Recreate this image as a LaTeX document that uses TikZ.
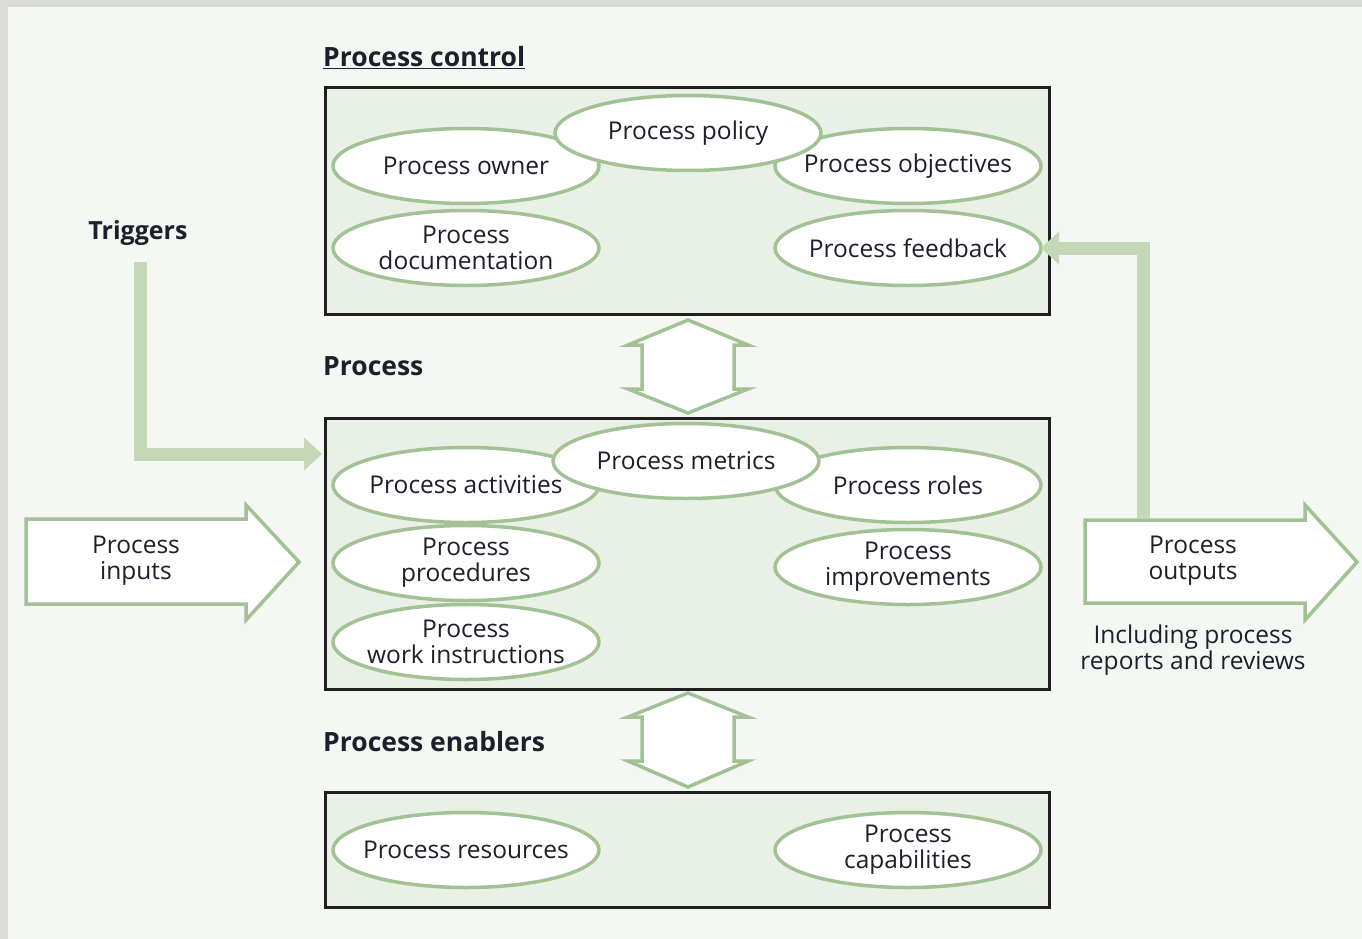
\documentclass[tikz,border=0pt]{standalone}
\usepackage{fontspec}
\setmainfont{Open Sans}
\usetikzlibrary{shapes.geometric,arrows.meta}
\definecolor{outergray}{HTML}{DCDBDA}
\definecolor{bg}{HTML}{F5F7F2}
\definecolor{boxfill}{HTML}{E9F0E5}
\definecolor{ellgreen}{HTML}{A2C295}
\definecolor{arrgreen}{HTML}{C4D8B8}
\definecolor{txt}{HTML}{1E1E2C}
\begin{document}
\begin{tikzpicture}[x=1pt,y=-1pt,
  every node/.style={text=txt, font=\fontsize{24.5}{26}\selectfont},
  panel/.style={draw=black!88, line width=3pt, fill=boxfill, anchor=north west, inner sep=0pt, outer sep=0pt},
  oval/.style={ellipse, draw=ellgreen, line width=3.5pt, fill=white, minimum width=266pt, minimum height=75pt, inner xsep=-45pt, inner ysep=0pt, outer sep=0pt, align=center},
  heading/.style={anchor=base west, inner sep=0pt, font=\bfseries\fontsize{26.5}{28}\selectfont},
  bigarrow/.style={draw=ellgreen, line width=3.5pt, fill=white, line join=miter},
  fatline/.style={draw=arrgreen, line width=13pt, -{Triangle[width=32pt,length=18pt]}},
  plain/.style={align=center, inner sep=0pt}
]
\useasboundingbox (0,0) rectangle (1362,939);
\fill[outergray] (0,0) rectangle (1362,939);
\fill[bg] (8,7) rectangle (1362,939);

% headings
\node[heading] (hctrl) at (323,67) {\underline{Process control}};
\node[heading] (hproc) at (323,375) {Process};
\node[heading] (henab) at (323,751) {Process enablers};
\node[heading, anchor=base, font=\bfseries\fontsize{25}{27}\selectfont] (htrig) at (138,239) {Triggers};

% panels
\node[panel, minimum width=724pt, minimum height=226pt] (ctrl) at (325,88) {};
\node[panel, minimum width=724pt, minimum height=271pt] (proc) at (325,418) {};
\node[panel, minimum width=724pt, minimum height=115pt] (enab) at (325,792) {};

% control ovals
\node[oval] (owner) at (466,166) {Process owner};
\node[oval] (obj) at (908,166) {Process objectives};
\node[oval] (policy) at (688,133) {Process policy};
\node[oval] (doc) at (466,248) {Process\\documentation};
\node[oval] (fb) at (908,248) {Process feedback};

% process ovals
\node[oval] (act) at (466,485) {Process activities};
\node[oval] (roles) at (908,485) {Process roles};
\node[oval] (metrics) at (686,461) {Process metrics};
\node[oval] (procd) at (466,563) {Process\\procedures};
\node[oval] (impr) at (908,567) {Process\\improvements};
\node[oval] (work) at (466,642) {Process\\work instructions};

% enabler ovals
\node[oval] (res) at (466,850) {Process resources};
\node[oval] (cap) at (908,850) {Process\\capabilities};

% double arrows
\draw[bigarrow] (688,320) -- (748,345) -- (734,345) -- (734,389) -- (748,389) -- (688,413)
  -- (628,389) -- (642,389) -- (642,345) -- (628,345) -- cycle;
\draw[bigarrow] (688,693) -- (748,717) -- (734,717) -- (734,761) -- (748,761) -- (688,787)
  -- (628,761) -- (642,761) -- (642,717) -- (628,717) -- cycle;

% inputs / outputs arrows
\draw[bigarrow] (26,519) -- (246,519) -- (246,505) -- (299,562) -- (246,620) -- (246,604) -- (26,604) -- cycle;
\node[plain] (inputs) at (136,561) {Process\\inputs};

\draw[bigarrow] (1085,520) -- (1305,520) -- (1305,505) -- (1357,562) -- (1305,620) -- (1305,603) -- (1085,603) -- cycle;
\node[plain] (outputs) at (1193,561) {Process\\outputs};
\node[plain] (incl) at (1193,650) {Including process\\reports and reviews};

% triggers connector
\coordinate (trigstart) at (140,262);
\coordinate (trigend) at (322,454);
\draw[fatline, line join=miter] (trigstart) |- (trigend);

% feedback connector
\coordinate (outtop) at (1143,518);
\draw[fatline, line join=miter] (outtop) |- (fb.east);
\end{tikzpicture}
\end{document}
